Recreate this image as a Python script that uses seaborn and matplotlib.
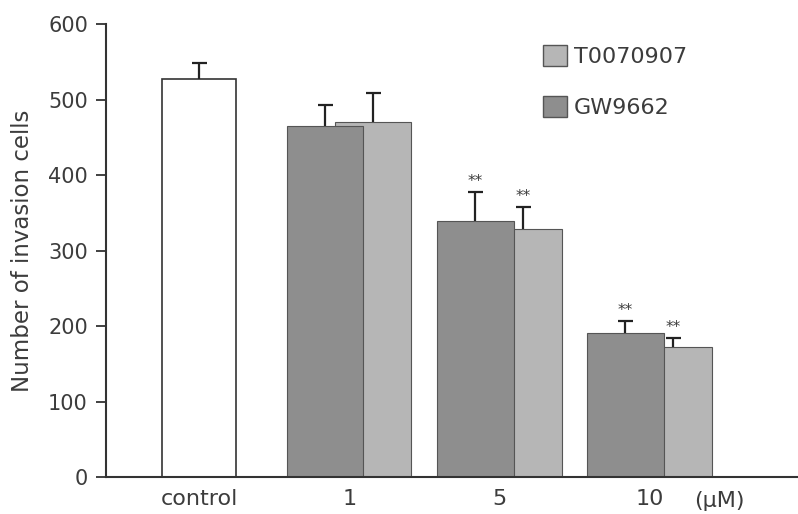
import numpy as np
import pandas as pd
import matplotlib
matplotlib.use("Agg")
import matplotlib.pyplot as plt
from matplotlib.patches import Patch
import seaborn as sns

# ---- data ----
categories = ["control", "1", "5", "10"]
control_value = [527]
control_err = [21]
gw_values = [465, 339, 191]      # GW9662 (darker)
gw_err = [28, 38, 16]
t_values = [470, 329, 172]       # T0070907 (lighter)
t_err = [39, 29, 12]
gw_sig = ["", "**", "**"]
t_sig = ["", "**", "**"]
unit_label = "(μM)"
y_ticks = [0, 100, 200, 300, 400, 500, 600]

sns.set_theme(style="white")
plt.rcParams['font.family'] = ['DejaVu Sans']

text_color = "#3c3c3c"
dark_col = "#8e8e8e"
light_col = "#b6b6b6"

fig = plt.figure(figsize=(7.98, 5.14), dpi=100)
ax = fig.add_axes([0.1328, 0.072, 0.8672, 0.881])

pos = np.arange(len(categories), dtype=float)
off = 0.16
w = 0.51

ctrl_df = pd.DataFrame({"x": pos[:1], "y": control_value})
t_df = pd.DataFrame({"x": pos[1:] + off, "y": t_values})
gw_df = pd.DataFrame({"x": pos[1:] - off, "y": gw_values})

sns.barplot(data=t_df, x="x", y="y", native_scale=True, width=w,
            color=light_col, saturation=1, edgecolor="#555555", linewidth=0.8, ax=ax, zorder=1)
sns.barplot(data=gw_df, x="x", y="y", native_scale=True, width=w,
            color=dark_col, saturation=1, edgecolor="#555555", linewidth=0.8, ax=ax, zorder=2)
sns.barplot(data=ctrl_df, x="x", y="y", native_scale=True, width=0.49,
            color="white", saturation=1, edgecolor="#333333", linewidth=1.2, ax=ax, zorder=2)

# error bars (upper only, cap on top)
cap = 0.05
for xs, ys, es in [(ctrl_df["x"], control_value, control_err),
                   (gw_df["x"], gw_values, gw_err),
                   (t_df["x"], t_values, t_err)]:
    xs = np.asarray(xs); ys = np.asarray(ys); es = np.asarray(es)
    ax.vlines(xs, ys, ys + es, color="#222222", linewidth=1.6, zorder=3)
    ax.hlines(ys + es, xs - cap, xs + cap, color="#222222", linewidth=1.6, zorder=3)

for xs, ys, es, sig in [(gw_df["x"], gw_values, gw_err, gw_sig),
                        (t_df["x"], t_values, t_err, t_sig)]:
    for x, y, e, s in zip(xs, ys, es, sig):
        if s:
            ax.text(x, y + e + 4, s, ha="center", va="bottom", fontsize=11,
                    color=text_color)

ax.set_xlim(-0.62, 3.99)
ax.set_ylim(0, 600)
ax.set_yticks(y_ticks)
ax.set_yticklabels([str(t) for t in y_ticks])
ax.set_xticks(pos)
ax.set_xticklabels(categories)
ax.text(3.467, -19, unit_label, ha="center", va="top", fontsize=16, color=text_color)
ax.set_xlabel("")
ax.set_ylabel("Number of invasion cells", fontsize=16.5, color=text_color, labelpad=10)

ax.tick_params(axis="y", which="major", left=True, length=7, width=1.3,
               color="#333333", labelsize=15, labelcolor=text_color, pad=6, direction="out")
ax.tick_params(axis="x", length=0, labelsize=16, labelcolor=text_color, pad=9)

sns.despine(ax=ax, top=True, right=True)
for s in ["left", "bottom"]:
    ax.spines[s].set_color("#333333")
    ax.spines[s].set_linewidth(1.5)

handles = [Patch(facecolor=light_col, edgecolor="#555555", label="T0070907"),
           Patch(facecolor=dark_col, edgecolor="#555555", label="GW9662")]
ax.legend(handles=handles, loc="upper left", bbox_to_anchor=(0.632, 0.955),
          frameon=False, fontsize=16, handlelength=1.08, handleheight=1.1,
          handletextpad=0.3, labelspacing=1.3, borderpad=0, borderaxespad=0,
          labelcolor=text_color)

fig.savefig("out.png", dpi=100)
